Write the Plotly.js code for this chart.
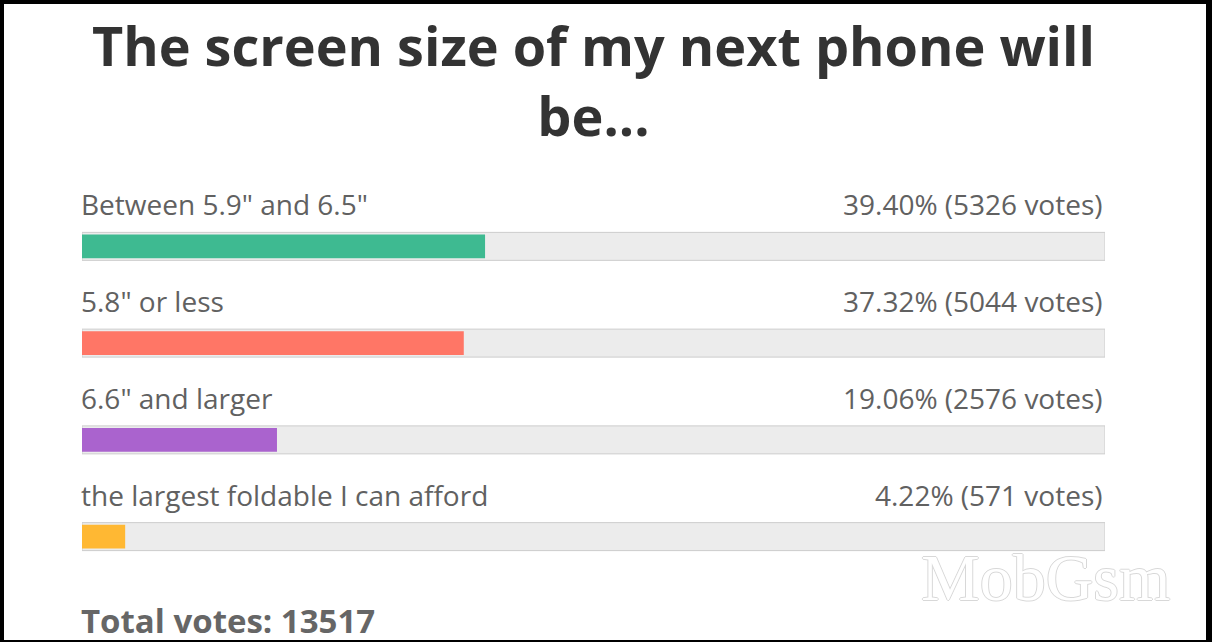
<!DOCTYPE html>
<html>
<head>
<meta charset="utf-8">
<script src="https://cdn.plot.ly/plotly-3.0.1.min.js"></script>
<style>
  html, body { margin: 0; padding: 0; background: #fff; }
  #frame { width: 1212px; height: 642px; box-sizing: border-box; border-style: solid; border-color: #000;
           border-width: 4px 6px 2px 4px; overflow: hidden; }
  #chart { width: 1202px; height: 636px; }
</style>
</head>
<body>
<div id="frame"><div id="chart"></div></div>
<script>
const titleText = "The screen size of my next phone will<br>be...";
const categories = ["Between 5.9\" and 6.5\"", "5.8\" or less", "6.6\" and larger", "the largest foldable I can afford"];
const percents = [39.40, 37.32, 19.06, 4.22];
const votes = [5326, 5044, 2576, 571];
const barColors = ["#3eba91", "#ff7666", "#aa63ce", "#ffb833"];
const totalVotes = 13517;
const fullScale = [100, 100, 100, 100];

const labelFont = {family: "Open Sans, sans-serif", size: 28, color: "#616161"};

const traces = [
  {
    type: "bar", orientation: "h", y: categories, x: fullScale,
    width: 0.289, marker: {color: "#ececec", line: {color: "#cccccc", width: 1}},
    hoverinfo: "skip", showlegend: false
  },
  {
    type: "bar", orientation: "h", y: categories, x: percents,
    width: 0.247, marker: {color: barColors, line: {width: 0}},
    hoverinfo: "skip", showlegend: false
  }
];

const annotations = [];
categories.forEach((c, i) => {
  annotations.push({
    x: 0, y: c, xref: "x", yref: "y", xanchor: "left", yanchor: "middle", yshift: 42, xshift: -3,
    text: c, showarrow: false, font: labelFont
  });
  annotations.push({
    x: 100, y: c, xref: "x", yref: "y", xanchor: "right", yanchor: "middle", yshift: 42,
    text: percents[i].toFixed(2) + "% (" + votes[i] + " votes)", showarrow: false, font: labelFont
  });
});
annotations.push({
  x: 0, y: 0, xref: "paper", yref: "paper", xanchor: "left", yanchor: "top", yshift: -11, xshift: -3,
  text: "<b>Total votes: " + totalVotes + "</b>", showarrow: false,
  font: {family: "Open Sans, sans-serif", size: 33, color: "#666666"}
});
annotations.push({
  x: 1.0, y: 0, xref: "paper", yref: "paper", xanchor: "left", yanchor: "top", xshift: -186, yshift: 46,
  text: "MobGsm", showarrow: false,
  font: {family: "Liberation Serif, serif", size: 66, color: "#ffffff",
         shadow: "1px 0 0 #d8d8d8, -1px 0 0 #d8d8d8, 0 1px 0 #d8d8d8, 0 -1px 0 #d8d8d8"}
});

const layout = {
  width: 1202, height: 636,
  margin: {l: 78, r: 101, t: 193.5, b: 54.5},
  paper_bgcolor: "#ffffff", plot_bgcolor: "#ffffff",
  title: {
    text: titleText, x: 589.5 / 1202, xanchor: "center", xref: "container",
    y: 1 - 62 / 636, yanchor: "top", yref: "container",
    font: {family: "Open Sans, sans-serif", size: 54, color: "#333333", weight: 700}
  },
  barmode: "overlay",
  xaxis: {range: [0, 100], visible: false, fixedrange: true},
  yaxis: {type: "category", range: [3.5, -0.5], visible: false, fixedrange: true},
  annotations: annotations,
  showlegend: false
};

Plotly.newPlot("chart", traces, layout, {displayModeBar: false, staticPlot: true});
</script>
</body>
</html>
